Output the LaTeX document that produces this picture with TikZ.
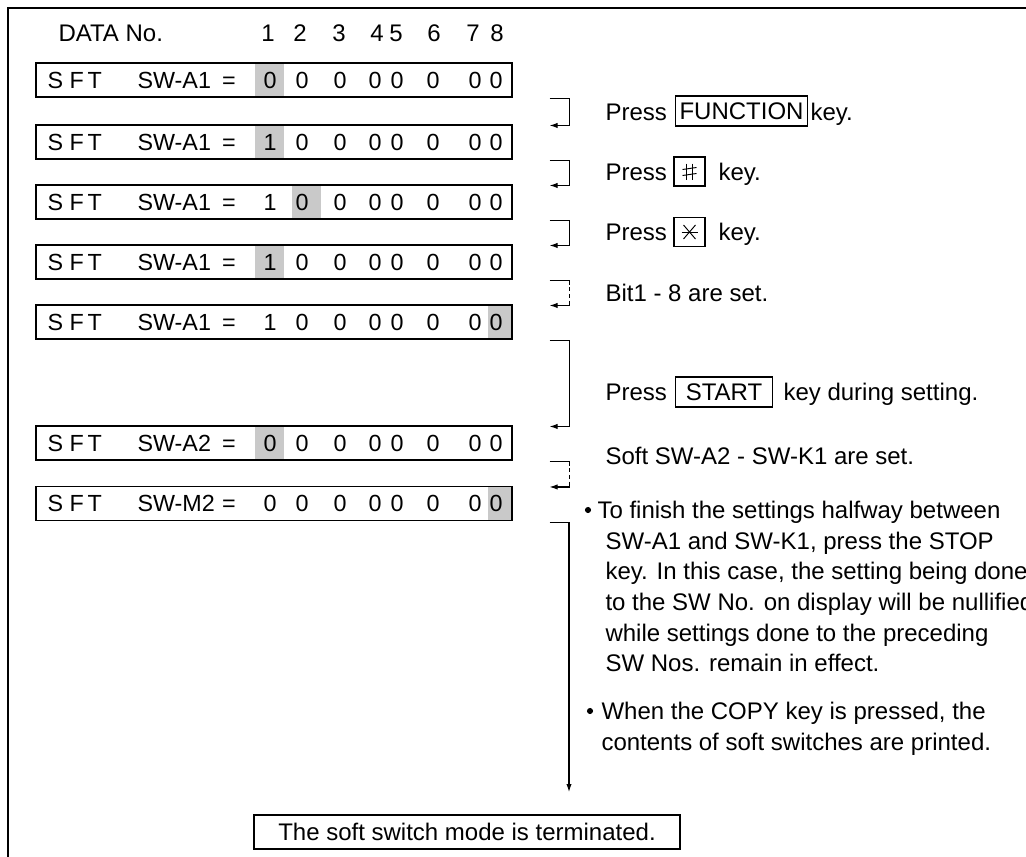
\documentclass[tikz,border=0pt]{standalone}
\usepackage{fontspec}
\setmainfont{Liberation Sans}
\usetikzlibrary{arrows.meta}
\newcommand\swrow[4]{% name, centre y, label, digits
  \node[rowbox] (#1) at (274,#2) {};
  \node[rowtxt] (#1-s) at (47,{#2+8.3}) {S};
  \node[rowtxt] (#1-f) at (69,{#2+8.3}) {F};
  \node[rowtxt] (#1-t) at (87,{#2+8.3}) {T};
  \node[rowtxt] (#1-lab) at (137,{#2+8.3}) {SW-#3};
  \node[numtxt] (#1-eq) at (229,{#2+8.3}) {=};
  \foreach \d [count=\i] in {#4} {
    \pgfmathsetmacro\xx{{270,302,340,375,397,433,475,496}[\i-1]}
    \node[numtxt] (#1-d\i) at (\xx,{#2+8.3}) {\d};
  }
}
\newcommand\shadecell[3]{\fill[cellfill] (#2,{#1-17}) rectangle (#3,{#1+17});}
\begin{document}
\begin{tikzpicture}[x=0.75pt,y=-0.75pt,
  line width=0.8pt,
  rowbox/.style={draw, minimum width=357pt, minimum height=25.5pt, inner sep=0pt},
  cellfill/.style={fill=black!21},
  rowtxt/.style={font=\fontsize{17.5}{20}\selectfont, inner sep=0pt, anchor=base west},
  numtxt/.style={font=\fontsize{17.5}{20}\selectfont, inner sep=0pt, anchor=base},
  hdrtxt/.style={font=\fontsize{18}{20}\selectfont, inner sep=0pt},
  lbl/.style={font=\fontsize{18}{22}\selectfont, inner sep=0pt, anchor=base west},
  keybox/.style={draw, font=\fontsize{18}{22}\selectfont, inner sep=0pt, inner xsep=3pt,
    minimum height=22.5pt, text height=12.9pt, text depth=0pt, anchor=west},
  symkey/.style={draw, minimum width=23.25pt, minimum height=21.75pt, inner sep=0pt},
  flow/.style={-{Latex[length=6pt,width=4pt]}},
  dashv/.style={dash pattern=on 3pt off 2pt},
  dot/.style={circle, fill, inner sep=0pt, minimum size=4.6pt},
]
\useasboundingbox (0,0) rectangle (1026,857);
\clip (0,0) rectangle (1026,857);
\draw[line width=1.9pt] (8,8) rectangle (1100,950);

% header
\node[hdrtxt, anchor=base west] (hdr) at (58,41.6) {DATA No.};
\foreach \n/\xx in {1/268,2/300,3/339,4/377,5/396,6/434,7/473,8/497}
  \node[hdrtxt, anchor=base] (h\n) at (\xx,41.6) {\n};

% shaded cells
\shadecell{80}{255}{284}
\shadecell{142}{255}{284}
\shadecell{202}{292}{321}
\shadecell{262}{255}{284}
\shadecell{322}{488}{511}
\shadecell{443}{255}{284}
\shadecell{503.5}{488}{511}

% rows
\swrow{r1}{80}{A1}{0,0,0,0,0,0,0,0}
\swrow{r2}{142}{A1}{1,0,0,0,0,0,0,0}
\swrow{r3}{202}{A1}{1,0,0,0,0,0,0,0}
\swrow{r4}{262}{A1}{1,0,0,0,0,0,0,0}
\swrow{r5}{322}{A1}{1,0,0,0,0,0,0,0}
\swrow{r6}{443}{A2}{0,0,0,0,0,0,0,0}
\swrow{r7}{503.5}{M2}{0,0,0,0,0,0,0,0}

% connectors
\draw[flow] ([xshift=27.75pt,yshift=-0.75pt]r1.south east) -- ++(20,0) |- ([xshift=27.75pt,yshift=-0.75pt]r2.north east);
\draw[flow] ([xshift=27.75pt,yshift=-0.75pt]r2.south east) -- ++(20,0) |- ([xshift=27.75pt,yshift=-0.75pt]r3.north east);
\draw[flow] ([xshift=27.75pt,yshift=-0.75pt]r3.south east) -- ++(20,0) |- ([xshift=27.75pt,yshift=-0.75pt]r4.north east);
\coordinate (d1a) at ([xshift=27.75pt,yshift=-0.75pt]r4.south east);
\coordinate (d1e) at ([xshift=27.75pt,yshift=-0.75pt]r5.north east);
\draw (d1a) -- ++(20,0) coordinate (d1b);
\draw[dashv] (d1b) -- (d1b |- d1e);
\draw[flow] (d1b |- d1e) -- (d1e);
\draw[flow] ([xshift=27.75pt,yshift=-0.75pt]r5.south east) -- ++(20,0) |- ([xshift=27.75pt,yshift=-0.75pt]r6.north east);
\coordinate (d2a) at ([xshift=27.75pt,yshift=-0.75pt]r6.south east);
\coordinate (d2e) at ([xshift=27.75pt,yshift=-0.75pt]r7.north east);
\draw (d2a) -- ++(20,0) coordinate (d2b);
\draw[dashv] (d2b) -- (d2b |- d2e);
\draw[flow] (d2b |- d2e) -- (d2e);
\coordinate (tend) at (569,792);
\draw[flow] ([xshift=27.75pt,yshift=-0.75pt]r7.south east) -| (tend);

% final box
\node[draw, font=\fontsize{18}{22}\selectfont, minimum width=319.5pt, minimum height=25.5pt,
  inner sep=0pt, text height=12.9pt, text depth=0pt] (term) at (467,832) {The soft switch mode is terminated.};

% right-hand labels
\node[lbl] (p1) at (605,120.6) {Press};
\node[keybox] (kfn) at (675,111) {FUNCTION};
\node[lbl] (p1k) at (810,120.6) {key.};

\node[lbl] (p2) at (605,180.6) {Press};
\node[symkey] (ksh) at (689.5,171.5) {};
\begin{scope}[shift={(ksh.center)}, line width=0.7pt]
  \draw (-3,-8) -- (-3,8);
  \draw (3,-8) -- (3,8);
  \draw (-7,-2) -- (7,-4);
  \draw (-7,4) -- (7,2);
\end{scope}
\node[lbl] (p2k) at (718,180.6) {key.};

\node[lbl] (p3) at (605,240.6) {Press};
\node[symkey] (kst) at (689.5,232) {};
\begin{scope}[shift={(kst.center)}, line width=0.7pt]
  \draw (-8,0) -- (8,0);
  \draw (-6,-7) -- (6,7);
  \draw (-6,7) -- (6,-7);
\end{scope}
\node[lbl] (p3k) at (718,240.6) {key.};

\node[lbl] (bit) at (605,301.6) {Bit1 - 8 are set.};

\node[lbl] (p4) at (605,400.6) {Press};
\node[keybox, minimum width=72.75pt] (kstart) at (675,392) {START};
\node[lbl] (p4k) at (783,400.6) {key during setting.};

\node[lbl] (soft) at (605,464.6) {Soft SW-A2 - SW-K1 are set.};

\node[dot] (b1) at (588,510) {};
\node[lbl] (l1) at (597,518.6) {To finish the settings halfway between};
\node[lbl] (l2) at (605,549.6) {SW-A1 and SW-K1, press the STOP};
\node[lbl] (l3) at (605,579.6) {key. In this case, the setting being done};
\node[lbl] (l4) at (605,610.6) {to the SW No. on display will be nullified};
\node[lbl] (l5) at (605,641.6) {while settings done to the preceding};
\node[lbl] (l6) at (605,671.6) {SW Nos. remain in effect.};

\node[dot] (b2) at (590,711) {};
\node[lbl] (l7) at (601,719.6) {When the COPY key is pressed, the};
\node[lbl] (l8) at (601,750.6) {contents of soft switches are printed.};
\end{tikzpicture}
\end{document}
